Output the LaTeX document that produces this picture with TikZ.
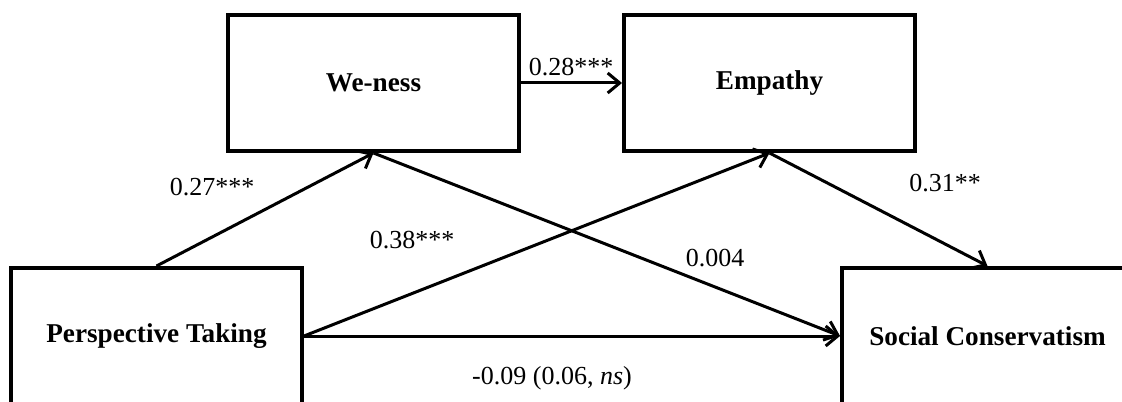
\documentclass[tikz,border=0pt]{standalone}
\usepackage{fontspec}
\setmainfont{Liberation Serif}
\usetikzlibrary{arrows.meta}

\begin{document}
\begin{tikzpicture}[x=0.5pt, y=-0.5pt, font=\fontsize{13}{15}\selectfont]
                \tikzstyle{var} = [draw, line width=2pt, minimum width=145.5pt, minimum height=68pt, font=\fontsize{13.6}{15}\selectfont\bfseries]
                \tikzstyle{path} = [line width=1.5pt, -{Straight Barb[length=6pt, width=10pt, line width=1.5pt]}]
                \useasboundingbox (0, 0) rectangle (1122, 401);
                \clip (0, 0) rectangle (1122, 401);
                \node[var] (weness) at (373.5, 83) {We-ness};
                \node[var] (empathy) at (769.5, 83) {Empathy};
                \node[var] (persp) at (156.5, 336) {Perspective Taking};
                \node[var] (conserv) at (987.5, 336) {Social Conservatism};
                \draw[path] (persp.north) -- (weness.south);
                \draw[path] (weness.east) -- (empathy.west);
                \draw[path] (persp.east) -- (empathy.south);
                \draw[path] (weness.south) -- (conserv.west);
                \draw[path] (empathy.south) -- (conserv.north);
                \draw[path] (persp.east) -- (conserv.west);
                \node (b1) at (212, 187) {0.27***};
                \node (b2) at (571, 67) {0.28***};
                \node (b3) at (945, 183) {0.31**};
                \node (b4) at (412, 240) {0.38***};
                \node (b5) at (715, 258) {0.004};
                \node (b6) at (552, 378) {-0.09 (0.06, \textit{ns})};
            \end{tikzpicture}
\end{document}
